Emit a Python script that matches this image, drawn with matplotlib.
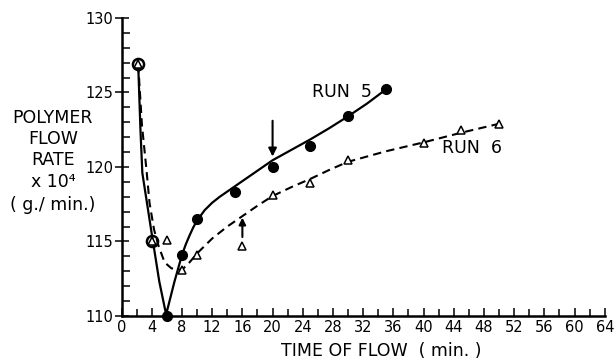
import matplotlib
matplotlib.use('Agg')
from matplotlib import pyplot as plt
from matplotlib.ticker import MultipleLocator
import numpy as np

plt.rcParams['font.family'] = ['DejaVu Sans']

# measured points, run 5 (filled circles)
run5_t = [6, 8, 10, 15, 20, 25, 30, 35]
run5_y = [110.0, 114.1, 116.5, 118.35, 120.0, 121.4, 123.4, 125.2]

# points where both runs coincide (open circle with triangle)
both_t = [2.2, 4]
both_y = [126.9, 115.0]

# measured points, run 6 (open triangles)
run6_t = [2.2, 4, 6, 8, 10, 16, 20, 25, 30, 40, 45, 50]
run6_y = [126.9, 115.0, 115.1, 113.1, 114.1, 114.7, 118.1, 118.9, 120.45, 121.6, 122.5, 122.9]

# hand drawn curves
curve5_t = [2.2, 2.5, 2.75, 4.0, 5.0, 5.9, 7.0, 8.0, 8.5, 9.0, 9.5, 10.0, 11.0, 12.0,
            13.0, 14.0, 15.0, 16.0, 17.0, 18.0, 19.0, 20.0, 22.5, 25.0, 27.5, 30.0,
            32.5, 35.0]
curve5_y = [126.9, 122.5, 119.6, 115.5, 112.3, 110.1, 112.3, 114.1, 114.8, 115.4,
            115.95, 116.4, 117.1, 117.6, 118.0, 118.35, 118.7, 119.05, 119.4, 119.75,
            120.1, 120.45, 121.15, 121.85, 122.6, 123.4, 124.25, 125.2]

curve6_t = [2.2, 2.7, 3.3, 3.7, 4.3, 4.9, 5.7, 6.6, 8.0, 9.0, 10.0, 12.0, 14.0, 16.0,
            18.0, 20.0, 22.5, 25.0, 27.5, 30.0, 35.0, 40.0, 45.0, 50.0]
curve6_y = [126.9, 122.8, 119.8, 117.6, 115.8, 114.7, 113.6, 113.2, 113.1, 113.6, 114.2,
            115.2, 116.0, 116.7, 117.4, 118.05, 118.65, 119.2, 119.8, 120.35, 121.05,
            121.65, 122.3, 122.9]

fig = plt.figure(figsize=(6.14, 3.60), dpi=100)
ax = fig.add_axes([0.198, 0.1222, 0.787, 0.828])

ax.plot(curve5_t, curve5_y, color='black', lw=1.6, solid_joinstyle='round')
ax.plot(curve6_t, curve6_y, color='black', lw=1.5, dashes=(4, 2.5))

ax.plot(run5_t, run5_y, 'o', color='black', ms=7, clip_on=False, zorder=5)
ax.plot(run6_t, run6_y, '^', mfc='white', mec='black', mew=1.1, ms=5.5,
        clip_on=False, zorder=6)
ax.plot(both_t, both_y, 'o', mfc='none', mec='black', mew=1.8, ms=8,
        clip_on=False, zorder=7)

# arrows
ax.annotate('', xy=(20, 120.7), xytext=(20, 123.1),
            arrowprops=dict(arrowstyle='-|>', color='black', lw=1.5,
                            mutation_scale=12, shrinkA=0, shrinkB=0))
ax.annotate('', xy=(16, 116.6), xytext=(16, 115.3),
            arrowprops=dict(arrowstyle='-|>', color='black', lw=1.5,
                            mutation_scale=10, shrinkA=0, shrinkB=0))

ax.text(25.2, 125.0, 'RUN  5', fontsize=12.5, va='center', ha='left')
ax.text(42.4, 121.3, 'RUN  6', fontsize=12.5, va='center', ha='left')

ax.set_xlim(0, 64)
ax.set_ylim(110, 130)
ax.spines['top'].set_visible(False)
ax.spines['right'].set_visible(False)
ax.spines['left'].set_linewidth(1.8)
ax.spines['bottom'].set_linewidth(1.8)

ax.xaxis.set_major_locator(MultipleLocator(4))
ax.xaxis.set_minor_locator(MultipleLocator(2))
ax.yaxis.set_major_locator(MultipleLocator(5))
ax.yaxis.set_minor_locator(MultipleLocator(1))
ax.tick_params(axis='x', which='major', direction='in', length=6, width=1.1,
               labelsize=10.5, pad=3)
ax.tick_params(axis='x', which='minor', direction='in', length=5, width=1.1)
ax.tick_params(axis='y', which='major', direction='inout', length=10, width=1.1,
               labelsize=10.5, pad=1)
ax.tick_params(axis='y', which='minor', direction='in', length=6, width=1.1)

fig.text(381 / 614, 1 - 351 / 360, 'TIME OF FLOW  ( min. )', fontsize=12.5,
         ha='center', va='center')

ylab_lines = ['POLYMER', 'FLOW', 'RATE', 'x 10\u2074', '( g./ min.)']
ylab_rows = [118, 139, 160, 182, 205]
for txt, row in zip(ylab_lines, ylab_rows):
    fig.text(53 / 614, 1 - row / 360, txt, fontsize=12.5, ha='center', va='center')

fig.savefig('out.png', dpi=100)
